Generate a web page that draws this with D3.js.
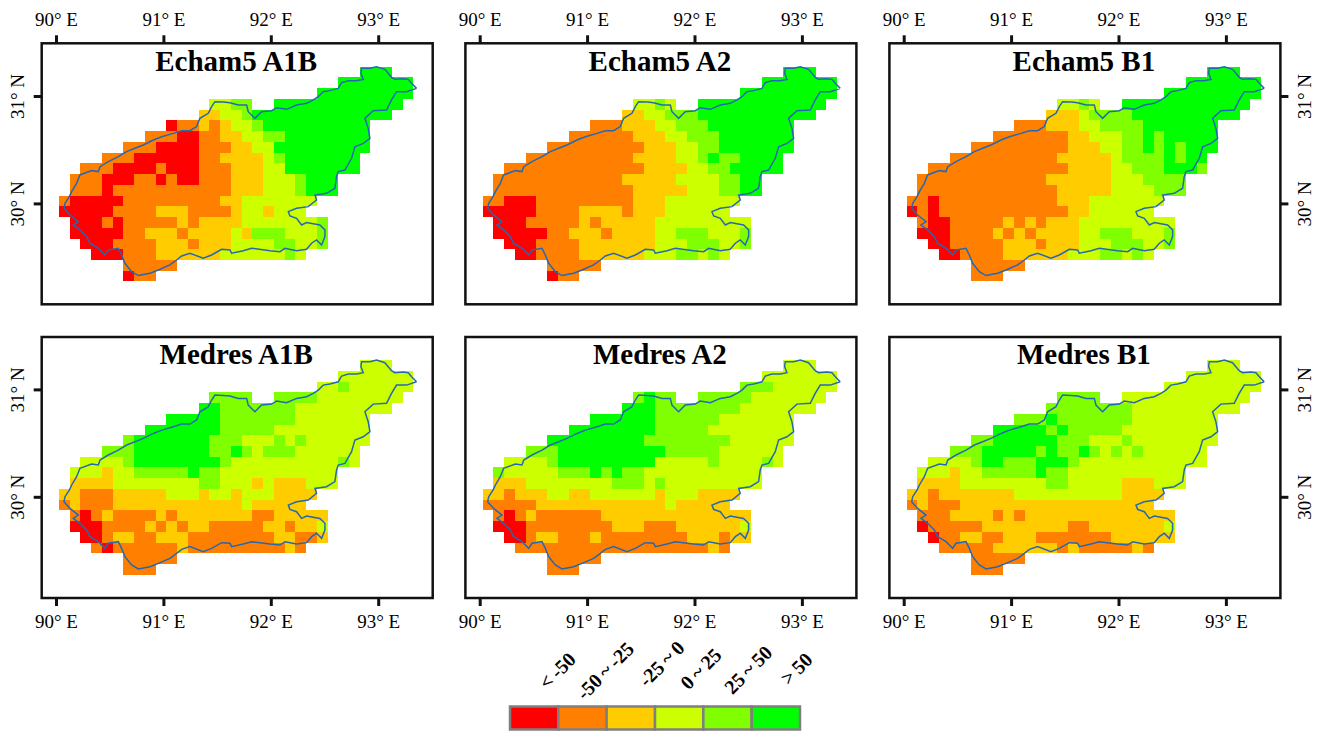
<!DOCTYPE html>
<html>
<head>
<meta charset="utf-8">
<style>
	html, body { margin: 0; padding: 0; background: #fff; }
	svg { display: block; }
	text { font-family: "Liberation Serif", serif; fill: #000; }
</style>
<script src="https://cdn.jsdelivr.net/npm/d3@7"></script>
</head>
<body>
<script>
const w = 1325;
const h = 731;

// Legend classes (grid values below are indexes into these)
const classLabels = ["< -50", "-50 ~ -25", "-25 ~ 0", "0 ~ 25", "25 ~ 50", "> 50"];
const classColors = ["#ff0000", "#ff7f00", "#ffcc00", "#ccff00", "#80ff00", "#00ff00"];

const lonTicks = [90, 91, 92, 93];
const latTicks = [30, 31];

// Each row: "fromColumn-toColumn:class", north to south, 0.1 degree cells
const echamA1B = [
	"28-30:5",
	"26-32:5",
	"24-32:5",
	"14-15:3 16-17:4 20-31:5",
	"13-14:2 15-16:3 17:4 18-30:5",
	"10:0 11-12:1 13:2 14:1 15:2 16-17:3 18:4 19-28:5",
	"8-10:1 11-12:0 13-14:1 15-16:2 17-18:3 19-20:4 21-28:5",
	"6-8:1 9-12:0 13-15:1 16-17:2 18-19:3 20-28:5",
	"4-6:1 7-12:0 13-14:1 15-18:2 19:3 20:4 21-27:5",
	"2-4:1 5-8:0 9:1 10-12:0 13-15:1 16-18:2 19-20:3 21-27:5",
	"1-3:1 4-6:0 7-8:1 9:0 10:1 11-12:0 13-15:1 16-18:2 19-21:3 22:4 23-25:5",
	"1-3:1 4:0 5-15:1 16-18:2 19-21:3 22:4 23-25:5",
	"0:1 1-5:0 6-14:1 15-16:2 17-23:3",
	"0-4:0 5-8:1 9-11:2 12-15:1 16:2 17-18:3 19:2 20-22:3",
	"1-3:0 4:1 5:0 6-10:1 11:2 12:1 13-16:2 17-23:3 24:4",
	"1-5:0 6-7:1 8-10:2 11:1 12-15:2 16:3 17:2 18-20:4 21-23:3 24:4",
	"2-4:0 5-8:1 9-11:2 12:1 13-15:2 16-19:3 20-21:4 22-23:3 24:4",
	"3-5:0 6-8:1 9-14:2 15-20:3 21:4 22:3",
	"6-10:1",
	"6:0 7-8:1",
];

const echamA2 = [
	"28-30:5",
	"26-32:5",
	"24-32:5",
	"14-15:3 16:4 17:3 20-31:5",
	"13-14:2 15-16:3 17-19:4 20-30:5",
	"10-12:1 13-15:2 16-17:3 18-20:4 21-28:5",
	"8-13:1 14-16:2 17-18:3 19-21:4 22-28:5",
	"6-14:1 15-17:2 18-19:3 20-21:4 22-28:5",
	"4-13:1 14-17:2 18-19:3 20:4 21:5 22-23:4 24-27:5",
	"2-14:1 15-18:2 19-20:3 21-22:4 23-27:5",
	"1-12:1 13-17:2 18-21:3 22-23:4 24-25:5",
	"1-13:1 14-18:2 19-21:3 22-23:4 24-25:5",
	"0-1:1 2-4:0 5-13:1 14-16:2 17-23:3",
	"0-4:0 5-8:1 9-12:2 13:1 14-16:2 17-22:3",
	"1-3:0 4-8:1 9:2 10:1 11-15:2 16-24:3",
	"1-5:0 6-7:1 8-10:2 11:1 12-15:2 16-17:3 18-20:4 21-23:3 24:4",
	"2-4:0 5-8:1 9-15:2 16-18:3 19-21:4 22-23:3 24:4",
	"3-4:0 5-8:1 9-14:2 15-17:3 18-19:4 20:3 21:4 22:3",
	"6-10:1",
	"6:0 7-8:1",
];

const echamB1 = [
	"28-30:5",
	"26-32:5",
	"24-32:5",
	"14-15:3 16:4 17:3 20-31:5",
	"13-15:2 16:3 17-20:4 21-30:5",
	"10-12:1 13-15:2 16-17:3 18-21:4 22-28:5",
	"8-14:1 15-16:2 17-19:3 20-21:4 22:5 23:4 24-28:5",
	"6-14:1 15-17:2 18-19:3 20-21:4 22:5 23:4 24:5 25:4 26-28:5",
	"4-13:1 14-18:2 19:3 20-23:4 24:5 25:4 26-27:5",
	"2-14:1 15-18:2 19-20:3 21-23:4 24-26:5 27:4",
	"1-12:1 13-18:2 19-21:3 22-25:4",
	"1-13:1 14-18:2 19-22:3 23-25:4",
	"0-1:1 2:0 3-13:1 14-16:2 17-23:3",
	"0:0 1:1 2:0 3-14:1 15-16:2 17-22:3",
	"1:1 2-3:0 4-8:1 9:2 10:1 11:2 12:1 13-15:2 16-24:3",
	"1-3:0 4-7:1 8:2 9:1 10:2 11:1 12-15:2 16-17:3 18-20:4 21-23:3 24:4",
	"2-3:0 4-8:1 9-11:2 12:1 13-15:2 16-18:3 19-21:4 22-23:3 24:4",
	"3-4:0 5-8:1 9-14:2 15-17:3 18-19:4 20:3 21:4 22:3",
	"6-10:1",
	"6-8:1",
];

const medresA1B = [
	"28-30:3",
	"26-32:3",
	"24-25:3 26:4 27-32:3",
	"14-17:4 20-23:4 24-31:3",
	"13-14:5 15-21:4 22-30:3",
	"10-14:5 15-21:4 22-28:3",
	"8-14:5 15-19:4 20-28:3",
	"6:4 7-13:5 14-16:4 17-19:3 20:4 21:3 22:4 23-28:3",
	"4-6:4 7-13:5 14-15:4 16:5 17:4 18:3 19-21:4 22-27:3",
	"2-5:3 6:4 7-14:5 15:4 16-25:3 26:4 27:3",
	"1-3:3 4:2 5-6:3 7-11:4 12:5 13-14:4 15-25:3",
	"1-4:2 5-12:3 13-14:4 15-17:3 18:2 19:3 20-22:2 23-25:3",
	"0-1:2 2-4:1 5-9:2 10-12:3 13:2 14-15:3 16:2 17-19:3 20-23:2",
	"0:1 1:2 2-4:1 5-16:2 17:3 18-22:2",
	"1:1 2:0 3:1 4:2 5-8:1 9:2 10:1 11-17:2 18-19:1 20-24:2",
	"1-3:0 4-7:1 8:2 9:1 10:2 11:1 12-13:2 14-18:1 19-20:2 21:1 22-23:2 24:3",
	"2-3:0 4:1 5-6:2 7-8:1 9-11:2 12-19:1 20-21:2 22-23:1 24:2",
	"3:1 4:0 5-10:1 11:2 12-20:1 21:2 22:1",
	"6-10:1",
	"6-8:1",
];

const medresA2 = [
	"28-30:3",
	"26-32:3",
	"24-26:4 27-32:3",
	"14:4 15:5 16-17:4 20-24:4 25-31:3",
	"13-15:5 16-23:4 24-30:3",
	"10-15:5 16-21:4 22-28:3",
	"8-15:5 16-20:4 21-28:3",
	"6-14:5 15-22:4 23-28:3",
	"4-6:4 7-16:5 17-21:4 22-27:3",
	"2-5:3 6:4 7-15:5 16-20:3 21:4 22-25:3 26:4 27:3",
	"1:4 2-6:3 7-9:4 10:5 11:4 12:5 13-14:4 15-25:3",
	"1-3:2 4-11:3 12-14:4 15:3 16:4 17-25:3",
	"0-1:2 2:1 3-5:2 6-7:3 8-9:2 10-15:3 16:2 17-19:3 20-23:2",
	"0-4:1 5-16:2 17:3 18-22:2",
	"1:1 2:0 3:1 4:2 5-10:1 11-24:2",
	"1-3:0 4-11:1 12-14:2 15-17:1 18-23:2 24:3",
	"2-3:0 4:1 5-6:2 7-9:1 10:2 11-18:1 19-21:2 22:1 23-24:2",
	"3-20:1 21:2 22:1",
	"6-10:1",
	"6-8:1",
];

const medresB1 = [
	"28-30:3",
	"26-32:3",
	"24-32:3",
	"14-17:4 20-31:3",
	"13-20:4 21-30:3",
	"10-12:4 13:5 14-20:4 21-28:3",
	"8-12:5 13:4 14:5 15-19:4 20-28:3",
	"6-7:4 8-13:5 14-16:4 17-19:3 20:4 21-28:3",
	"4-6:4 7-11:5 12:4 13:5 14-15:4 16:5 17:4 18:3 19:4 20:3 21:4 22-27:3",
	"2-5:3 6:4 7-8:5 9-11:4 12-14:5 15:4 16-27:3",
	"1-3:3 4:2 5-6:3 7-11:4 12:5 13-14:4 15-25:3",
	"1-4:2 5-12:3 13-14:4 15-19:3 20-22:2 23-25:3",
	"0-1:2 2:1 3-9:2 10-19:3 20-23:2",
	"0:1 1:2 2-4:1 5-22:2",
	"1-3:1 4-7:2 8:1 9:2 10:1 11-24:2",
	"1:0 2-6:1 7-14:2 15-16:1 17-23:2 24:3",
	"2:0 3-4:1 5-6:2 7-8:1 9-11:2 12-18:1 19-24:2",
	"3-7:1 8-13:2 14:1 15:2 16-20:1 21:2 22:1",
	"6-10:1",
	"6-8:1",
];

// Basin outline
const boundaryLon = [93.357, 93.311, 93.280, 93.233, 93.155, 93.124, 93.093, 93.062, 92.985, 92.923, 92.845, 92.839, 92.861, 92.799, 92.721, 92.659, 92.628, 92.550, 92.488, 92.442, 92.395, 92.333, 92.240, 92.147, 92.054, 92.007, 91.914, 91.852, 91.821, 91.790, 91.775, 91.697, 91.620, 91.558, 91.480, 91.449, 91.418, 91.340, 91.309, 91.247, 91.170, 91.092, 90.984, 90.906, 90.813, 90.735, 90.658, 90.580, 90.487, 90.410, 90.394, 90.332, 90.223, 90.192, 90.146, 90.124, 90.084, 90.074, 90.130, 90.208, 90.161, 90.223, 90.285, 90.316, 90.394, 90.456, 90.487, 90.580, 90.611, 90.642, 90.704, 90.766, 90.875, 90.953, 91.061, 91.123, 91.170, 91.247, 91.371, 91.449, 91.542, 91.620, 91.635, 91.744, 91.821, 91.992, 92.085, 92.132, 92.240, 92.333, 92.380, 92.426, 92.473, 92.504, 92.504, 92.457, 92.333, 92.287, 92.240, 92.178, 92.163, 92.240, 92.349, 92.426, 92.411, 92.519, 92.597, 92.612, 92.628, 92.690, 92.752, 92.783, 92.861, 92.923, 92.907, 92.876, 92.954, 93.078, 93.124, 93.171, 93.264, 93.357];
const boundaryLat = [31.071, 31.118, 31.155, 31.161, 31.155, 31.174, 31.211, 31.248, 31.273, 31.258, 31.258, 31.211, 31.155, 31.143, 31.143, 31.124, 31.071, 31.050, 31.040, 30.994, 30.963, 30.932, 30.916, 30.876, 30.891, 30.863, 30.854, 30.792, 30.823, 30.854, 30.916, 30.916, 30.938, 30.944, 30.947, 30.901, 30.839, 30.792, 30.715, 30.677, 30.677, 30.652, 30.621, 30.590, 30.544, 30.513, 30.482, 30.435, 30.389, 30.342, 30.296, 30.305, 30.265, 30.187, 30.110, 30.063, 30.001, 29.954, 29.892, 29.830, 29.799, 29.753, 29.691, 29.629, 29.582, 29.520, 29.567, 29.582, 29.520, 29.442, 29.365, 29.328, 29.349, 29.380, 29.427, 29.473, 29.511, 29.536, 29.489, 29.520, 29.573, 29.567, 29.536, 29.560, 29.582, 29.560, 29.551, 29.582, 29.560, 29.573, 29.629, 29.660, 29.613, 29.691, 29.753, 29.799, 29.821, 29.799, 29.861, 29.883, 29.923, 29.954, 29.970, 30.032, 30.078, 30.094, 30.141, 30.249, 30.296, 30.311, 30.420, 30.528, 30.559, 30.606, 30.699, 30.792, 30.863, 30.870, 30.963, 31.040, 31.040, 31.071];

const panelTitles = ["Echam5 A1B", "Echam5 A2", "Echam5 B1", "Medres A1B", "Medres A2", "Medres B1"];
const panelGrids = [echamA1B, echamA2, echamB1, medresA1B, medresA2, medresB1];

// Grid origin (west edge of column 0, north edge of row 0) in degrees
const gridLon = 90.028;
const gridLat = 31.273;
const gridStep = 0.1;

const frameW = 391;
const frameH = 261;
const frameX = [41.7, 465.4, 889.4];
const frameY = [43.3, 337];

const parseRow = (row, r) =>
	row.split(" ").flatMap((part) => {
		const [span, value] = part.split(":");
		const [from, to = from] = span.split("-").map(Number);
		return d3.range(from, to + 1).map((c) => ({ c, r, value: +value }));
	});

const svg = d3
	.select("body")
	.append("svg")
	.attr("width", w)
	.attr("height", h);

const color = d3.scaleOrdinal().domain(d3.range(6)).range(classColors);

panelTitles.forEach((title, i) => {
	const col = i % 3;
	const row = Math.floor(i / 3);
	const g = svg
		.append("g")
		.attr("transform", `translate(${frameX[col]}, ${frameY[row]})`);

	// 90E sits 14.3px inside the frame, 31N sits 52.7px below its top
	const x = d3.scaleLinear().domain([90, 93]).range([14.3, 14.3 + 322.2]);
	const y = d3.scaleLinear().domain([31, 30]).range([52.7 - row * 0.3, 52.7 - row * 0.3 + 107.4]);

	const cells = panelGrids[i].flatMap(parseRow);

	g.selectAll("rect.cell")
		.data(cells)
		.enter()
		.append("rect")
		.attr("class", "cell")
		.attr("x", (d) => x(gridLon + d.c * gridStep))
		.attr("y", (d) => y(gridLat - d.r * gridStep))
		.attr("width", x(90 + gridStep) - x(90))
		.attr("height", y(30) - y(30 + gridStep))
		.attr("fill", (d) => color(d.value))
		.attr("shape-rendering", "crispEdges");

	const line = d3
		.line()
		.x((d) => x(d[0]))
		.y((d) => y(d[1]));

	g.append("path")
		.attr("d", line(d3.zip(boundaryLon, boundaryLat)))
		.attr("fill", "none")
		.attr("stroke", "#2468b4")
		.attr("stroke-width", 1.5);

	g.append("rect")
		.attr("width", frameW)
		.attr("height", frameH)
		.attr("fill", "none")
		.attr("stroke", "#111")
		.attr("stroke-width", 2.5);

	g.append("text")
		.attr("x", frameW / 2 - 1)
		.attr("y", 27.4)
		.attr("text-anchor", "middle")
		.attr("font-size", 29)
		.attr("font-weight", "bold")
		.text(title);

	// Outer axes only: top on first row, bottom on second, sides on outer columns
	const xAxis = (row === 0 ? d3.axisTop(x) : d3.axisBottom(x))
		.tickValues(lonTicks)
		.tickSize(8)
		.tickFormat((d) => `${d}° E`);
	const xg = g
		.append("g")
		.attr("transform", `translate(0, ${row === 0 ? 0 : frameH})`)
		.call(xAxis);
	xg.selectAll("text")
		.attr("y", row === 0 ? -17.3 : 29.7)
		.attr("dy", 0);
	styleAxis(xg);

	if (col !== 1) {
		const yAxis = (col === 0 ? d3.axisLeft(y) : d3.axisRight(y))
			.tickValues(latTicks)
			.tickSize(8)
			.tickFormat((d) => `${d}° N`);
		const yg = g
			.append("g")
			.attr("transform", `translate(${col === 0 ? 0 : frameW}, 0)`)
			.call(yAxis);
		yg.selectAll("text")
			.attr("transform", "rotate(-90)")
			.attr("x", 0)
			.attr("y", col === 0 ? -17.7 : 31)
			.attr("dy", 0)
			.attr("text-anchor", "middle");
		styleAxis(yg);
	}
});

function styleAxis(sel) {
	sel.select(".domain").remove();
	sel.selectAll("line").attr("stroke", "#111").attr("stroke-width", 3);
	sel.selectAll("text")
		.attr("font-size", 19)
		.style("font-family", '"Liberation Serif", serif')
		.attr("fill", "#111");
}

// Legend
const legendX = d3
	.scaleBand()
	.domain(d3.range(classLabels.length))
	.range([510, 800]);

const legend = svg.append("g").attr("transform", "translate(0, 706.5)");

legend
	.selectAll("rect")
	.data(classColors)
	.enter()
	.append("rect")
	.attr("x", (_, i) => legendX(i))
	.attr("width", legendX.bandwidth())
	.attr("height", 23)
	.attr("fill", (d) => d)
	.attr("stroke", "#7f7f7f")
	.attr("stroke-width", 2.5);

// label centres sit up and to the right of their swatches
const labelShiftX = [24.5, 24, 32, 23, 22, 22];
const labelShiftY = [672, 672, 665, 670, 671, 670];

svg.selectAll("text.legend-label")
	.data(classLabels)
	.enter()
	.append("text")
	.attr("class", "legend-label")
	.attr("text-anchor", "middle")
	.attr("font-size", 20)
	.attr("word-spacing", -1)
	.attr("font-weight", "bold")
	.attr("transform", (_, i) => {
		const cx = legendX(i) + legendX.bandwidth() / 2 + labelShiftX[i];
		return `translate(${cx}, ${labelShiftY[i]}) rotate(-45) translate(0, 5)`;
	})
	.text((d) => d);
</script>
</body>
</html>
